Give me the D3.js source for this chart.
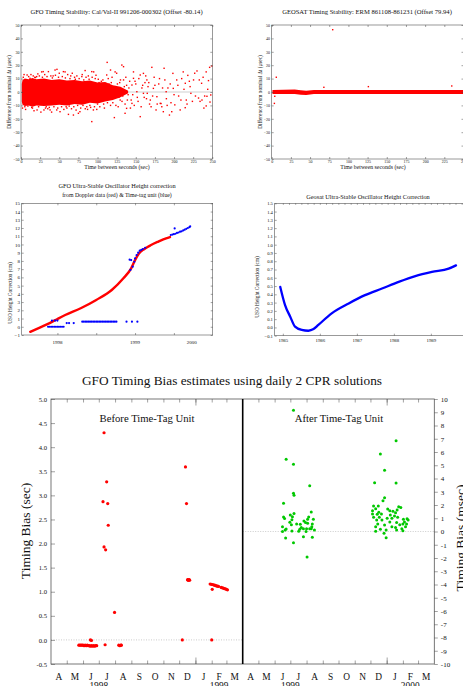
<!DOCTYPE html>
<html>
<head>
<meta charset="utf-8">
<script src="https://cdn.jsdelivr.net/npm/d3@7"></script>
<style>
body { margin: 0; background: #fff; }
svg { display: block; }
text { font-family: "Liberation Serif", "Times New Roman", serif; fill: #111; }
</style>
</head>
<body>
<svg id="chart" width="463" height="686"></svg>
<script>

////////////////////////////////////////////////////////////////////////////////
//                                                                       Data //
////////////////////////////////////////////////////////////////////////////////

// tick labels shared by both timing stability panels
var stabXTicks = [0, 25, 50, 75, 100, 125, 150, 175, 200, 225, 250];
var stabYTicks = [-50, -40, -30, -20, -10, 0, 10, 20, 30, 40, 50];

// GFO timing stability: the solid core of the cloud as an envelope (t, low, high)
var gfoCoreT  = [1, 2, 5, 10, 15, 20, 30, 40, 50, 60, 70, 80, 90, 100, 110, 120, 130, 140];
var gfoCoreLo = [-7, -9.5, -10.5, -10, -11, -10, -10.5, -10, -9.5, -10, -9, -9.5, -8, -8.5, -7, -6, -4, -1];
var gfoCoreHi = [6, 9, 10, 9.5, 10.5, 9.5, 10, 9, 9.5, 8.5, 9, 8, 8.5, 7, 7.5, 5, 4, 1];
// ... and the scattered points around it (sec, usec)
var gfoScatter = [
  [3,11],[5,-11],[8,12.7],[11.8,10.2],[15,-12],[18,11],[20.5,11.5],[21,-13.4],[24,12],[27,15],
  [29,15.2],[30,-13.4],[32,-12],[35,-12.5],[35.8,15.2],[38,-13.4],[42,12],[44.5,16.4],[46.7,-13.4],
  [47,16.9],[51,-14.7],[55.4,15.2],[57.6,15],[60,-12],[62,-16.7],[65,12],[68.5,-17.2],[70,11],
  [75,-15.9],[77,-14.7],[79.5,11.5],[83.8,16],[86,-11],[88,12],[90,-10],[92.5,15.2],[92.5,-22.1],
  [94.6,-13.4],[95,15],[97,10],[100,-9],[103,-11],
  [2,-12],[4,13],[6,-13],[9,-10.5],[10,11.5],[13,13],[14,-11.5],[16,12],[17,-14],[19,10.8],
  [22,13.5],[23,-11],[26,-15],[28,11],[31,13],[33,-11],[34,11.5],[37,-11.5],[39,12],[40,-15],
  [41,10.5],[43,-11],[45,12.5],[48,-12],[49,11],[50,14],[53,-11],[54,11.5],[56,-13],[58,10.5],
  [59,-11],[61,13],[63,-10.5],[64,10],[66,-12.5],[67,14],[69,-11],[71,9.5],[72,-13.5],[73,12],
  [74,-10],[76,10],[78,-12],[80,13],[81,-10],[82,9],[84,-12.5],[85,11],[87,-13],[89,9.5],
  [91,-11.5],[93,11],[96,-11],[98,12.5],[99,-13],[101,9.5],[102,7],[104,-7],[106,-5],[107,9],
  [109,-12],[111,2],[113,-8],[115,6],[117,-10],[119,11],[121,-2],[123,4],[127,-11],[129,7],
  [133,-3],[135,4],[137,11],[139,-6],[141,3],[143,-12],[146,-2],[149,8],[153,-7],[157,-11],
  [159,5],[161,-4],[163,12],[165,-1],[167,7],[170,-11],[175,5],[178,-9],[181,10],[185,3],
  [191,-10],[195,6],[200,-2],[205,5],[209,-6],[213,2],[217,-9],[221,4],[228,-3],[233,9],
  [239,-12],[244,2],
  [105,8],[108,-9],[110,5],[112,12.7],[112.6,22.1],[114,10],[116,-3],[117,16.4],[118,7],[120,-8],
  [122,-19.1],[123,15],[124,-10],[125,14],[126,6],[128,-4],[129.6,-6],[130,9],[131.8,20.1],[132,-7],
  [134,18.9],[134,9],[136,-15.9],[136,-9],[138,-12.2],[138,5],[140,-2],[142,8],[144,-6],[145,5.2],
  [145,-8.5],[147,10.2],[147,15],[148,-10],[150,6],[151.4,0.2],[152,-4],[154,10],[155.8,12.7],
  [155.8,-18.4],[158,3],[160,13.9],[160,-1],[162,7],[164.5,9],[164,-5],[166,4],[168,-9],[169,-6],
  [171,18.4],[172,-3],[173,2.7],[174,11],[176.5,-13.4],[177.6,-3.5],[180,6],[182,-8.5],[183,-8.6],
  [184,-11],[186,-14.7],[187,17.7],[188,9],[189.7,0.2],[190,-5],[192,3],[194,-17.2],[196,-8],
  [197,-14.7],[198.5,13.9],[199,2.7],[201,-9.6],[203.5,9],[206,-3],[208,-13.4],[210,10],[212,15],
  [214.6,-11.7],[214.7,6.5],[216,-6],[218,12.4],[220,8],[222,-1],[224,-7],[225.5,9],[227,14],
  [230,15.7],[232,-4.5],[234,-7],[236,6.5],[236.5,-6],[238,11],[240,-3],[242,15],[242,-10.4],
  [243,-3.2],[245,8.5],[246.5,18.4],[247,-7.5],[248,-2.2],[249.5,19.4]
];

// GEOSAT timing stability: narrow band around zero plus a few outliers
var geoBandT  = [1, 30, 38, 45, 55, 70, 250];
var geoBandLo = [-1.5, -1.5, -2.1, -2.3, -1.5, -1.5, -1.5];
var geoBandHi = [1.5, 1.9, 1.3, 1.0, 1.5, 1.5, 1.5];
var geoOutliers = [[3.5,-8.5],[4,-3.2],[6,11],[68,3.5],[79.5,46.5],[126,4],[234.7,4.5]];

// GFO USO height correction (decimal year, cm)
var usoTicksY = [-1,0,1,2,3,4,5,6,7,8,9,10,11,12,13,14,15];
var usoYearLabels = [["1998", 1998.0], ["1999", 1999.0], ["2000", 1999.73]];
var usoDoppler = [
  [1997.65,-0.62],[1997.78,-0.07],[1997.9,0.45],[1998.0,0.95],[1998.1,1.43],[1998.3,2.25],
  [1998.5,3.26],[1998.7,4.47],[1998.85,5.89],[1998.95,7.1],[1999.0,8.1],[1999.05,8.9],
  [1999.12,9.45],[1999.2,9.9],[1999.3,10.35],[1999.4,10.75],[1999.45,10.9]
];
var usoTimeTag = [
  [1997.88,0],[1997.90,0],[1997.92,0],[1997.94,0],[1997.96,0],[1997.98,0],[1998.00,0],[1998.02,0],
  [1998.04,0],[1998.06,0],[1998.08,0],
  [1997.93,0.75],[1997.97,0.75],[1998.00,0.75],
  [1998.12,0.45],[1998.15,0.45],[1998.21,0.45],
  [1998.32,0.62],[1998.34,0.62],[1998.36,0.62],[1998.38,0.62],[1998.40,0.62],[1998.42,0.62],
  [1998.44,0.62],[1998.46,0.62],[1998.48,0.62],[1998.50,0.62],[1998.52,0.62],[1998.54,0.62],
  [1998.56,0.62],[1998.58,0.62],[1998.60,0.62],[1998.62,0.62],[1998.64,0.62],[1998.66,0.62],
  [1998.68,0.62],[1998.70,0.62],[1998.72,0.62],[1998.74,0.62],[1998.76,0.62],
  [1998.89,0.62],[1998.96,0.62],[1999.03,0.62],
  [1998.93,8.15],[1998.95,8.1],
  [1998.94,6.9],[1998.97,7.3],[1998.99,7.9],[1999.0,8.3],[1999.02,8.7],[1999.04,9.0],
  [1999.06,9.25],[1999.08,9.35],[1999.10,9.45],[1999.13,9.6],
  [1999.46,11.15],[1999.48,11.2],[1999.50,11.25],[1999.52,11.3],[1999.54,11.4],[1999.56,11.45],
  [1999.58,11.55],[1999.60,11.6],[1999.62,11.7],[1999.64,11.8],[1999.66,11.9],[1999.68,12.0],
  [1999.70,12.1],[1999.71,12.2],[1999.51,11.95]
];

// Geosat USO height correction (decimal year, cm)
var geoUsoTicksY = [-0.1,0,0.1,0.2,0.3,0.4,0.5,0.6,0.7,0.8,0.9,1.0,1.1,1.2,1.3,1.4,1.5];
var geoUsoYears = [1985, 1986, 1987, 1988, 1989];
var geoUso = [
  [1984.93,0.49],[1985.06,0.27],[1985.2,0.13],[1985.33,0.01],[1985.51,-0.03],[1985.69,-0.04],
  [1985.83,-0.02],[1985.96,0.03],[1986.32,0.17],[1986.78,0.29],[1987.22,0.39],[1987.68,0.47],
  [1988.13,0.55],[1988.58,0.62],[1989.03,0.67],[1989.48,0.71],[1989.68,0.75]
];

// GFO timing bias, before the time-tag unit (date, sec)
var secTicks = [-0.5,0,0.5,1,1.5,2,2.5,3,3.5,4,4.5,5];
var biasBefore = [
  ["1998-05-24",-0.11],["1998-05-26",-0.11],["1998-05-28",-0.11],["1998-05-30",-0.11],
  ["1998-06-01",-0.11],["1998-06-03",-0.12],["1998-06-05",-0.11],["1998-06-07",-0.12],
  ["1998-06-09",-0.11],["1998-06-11",-0.12],["1998-06-13",-0.12],["1998-06-15",-0.13],
  ["1998-06-17",-0.12],["1998-06-19",-0.13],["1998-06-21",-0.12],["1998-06-23",-0.13],
  ["1998-06-25",-0.12],["1998-06-27",-0.12],
  ["1998-06-15",0.0],["1998-06-17",-0.01],
  ["1998-07-09",2.87],["1998-07-11",4.30],["1998-07-11",1.93],["1998-07-13",-0.10],
  ["1998-07-14",1.87],["1998-07-16",3.28],["1998-07-18",2.83],["1998-07-19",2.38],
  ["1998-07-31",0.57],["1998-08-08",-0.11],["1998-08-10",-0.12],["1998-08-12",-0.11],
  ["1998-08-13",-0.11],
  ["1998-12-07",0.0],["1998-12-13",3.59],["1998-12-15",2.83],["1998-12-17",1.25],
  ["1998-12-18",1.24],["1998-12-19",1.24],["1998-12-20",1.25],["1998-12-21",1.24],
  ["1999-01-29",1.16],["1999-01-31",1.155],["1999-02-01",0.0],["1999-02-02",1.05],
  ["1999-02-02",1.15],["1999-02-04",1.145],["1999-02-06",1.135],["1999-02-08",1.13],
  ["1999-02-10",1.12],["1999-02-12",1.115],["1999-02-14",1.11],["1999-02-19",1.09],
  ["1999-02-21",1.08],["1999-02-23",1.075],["1999-02-25",1.065],["1999-02-27",1.06],
  ["1999-03-01",1.05],["1999-03-03",1.04]
];

// GFO timing bias, after the time-tag unit (date, msec)
var msecTicks = [-10,-9,-8,-7,-6,-5,-4,-3,-2,-1,0,1,2,3,4,5,6,7,8,9,10];
var biasAfter = [
  ["1999-07-07",9.15],["1999-06-23",5.45],["1999-07-07",5.07],["1999-08-07",3.46],
  ["1999-07-07",2.88],["1999-07-08",2.73],["1999-06-18",2.13],["1999-08-10",1.47],
  ["1999-07-01",1.25],["1999-07-08",1.35],["1999-07-05",1.12],["1999-06-18",1.09],
  ["1999-06-20",0.99],["1999-08-05",1.09],["1999-08-03",0.92],["1999-08-14",0.92],
  ["1999-07-04",0.89],["1999-06-30",0.69],["1999-07-27",0.79],["1999-07-30",0.67],
  ["1999-07-13",0.57],["1999-07-20",0.54],["1999-08-03",0.62],["1999-08-12",0.57],
  ["1999-06-16",0.36],["1999-07-03",0.51],["1999-06-23",0.19],["1999-06-21",0.11],
  ["1999-06-16",0.0],["1999-07-04",0.04],["1999-07-19",0.17],["1999-07-26",0.21],
  ["1999-08-01",0.21],["1999-08-07",0.21],["1999-08-10",0.21],["1999-07-22",0.31],
  ["1999-07-31",0.0],["1999-08-11",0.36],["1999-08-16",0.11],["1999-07-17",0.01],
  ["1999-06-22",-0.49],["1999-07-26",-0.39],["1999-08-12",-0.44],["1999-07-07",-0.84],
  ["1999-08-02",-1.92],
  ["2000-01-19",6.85],["1999-12-20",5.85],["1999-12-28",4.62],["1999-12-09",3.68],
  ["2000-01-19",3.66],["1999-12-28",2.55],["1999-12-25",2.32],["1999-12-07",1.92],
  ["1999-12-16",1.92],["1999-12-11",1.72],["1999-12-05",1.57],["2000-01-03",1.70],
  ["2000-01-07",1.57],["2000-01-24",1.87],["2000-01-28",1.82],["2000-01-13",1.52],
  ["2000-01-18",1.42],["2000-01-21",1.62],["1999-12-17",1.45],["1999-12-05",1.32],
  ["1999-12-14",1.30],["1999-12-22",1.32],["2000-01-08",1.25],["2000-01-16",1.17],
  ["1999-12-07",1.07],["1999-12-18",1.07],["2000-01-02",1.0],["2000-01-11",1.0],
  ["2000-01-22",1.07],["2000-02-09",0.97],["2000-02-11",0.87],["2000-02-02",0.92],
  ["2000-02-04",0.72],["2000-02-08",0.57],["2000-02-01",0.57],["2000-02-06",0.36],
  ["1999-12-13",0.87],["1999-12-23",0.87],["2000-01-07",0.72],["2000-01-20",0.67],
  ["2000-01-26",0.51],["1999-12-15",0.57],["1999-12-28",0.49],["1999-12-11",0.36],
  ["2000-01-11",0.36],["2000-01-18",0.31],["1999-12-20",0.17],["1999-12-11",0.01],
  ["1999-12-31",0.11],["2000-01-20",0.11],["2000-02-01",0.06],["2000-01-30",0.21],
  ["1999-12-31",-0.47],["1999-12-27",-0.14]
];

var monthLetters = ["J","F","M","A","M","J","J","A","S","O","N","D"];
var biasYearLabels = [["1998","1998-07-01"],["1999","1999-02-15"],["1999","1999-07-01"],["2000","2000-02-15"]];

////////////////////////////////////////////////////////////////////////////////
//                                                                      Setup //
////////////////////////////////////////////////////////////////////////////////

var RED = "#ff0000", BLUE = "#0000ff", GREEN = "#00c800", FRAME = "#555";
var SANS = "'Liberation Sans', Arial, sans-serif";
var SERIF = "'Liberation Serif', 'Times New Roman', serif";
var svg = d3.select("#chart");
var parse = d3.utcParse("%Y-%m-%d");

function frame(g, x0, y0, x1, y1, w) {
  g.append("rect").attr("x", x0).attr("y", y0)
    .attr("width", x1 - x0).attr("height", y1 - y0)
    .attr("fill", "none").attr("stroke", FRAME).attr("stroke-width", w || 0.6);
}

// put an axis in place, drop its domain line and restyle it
function axis(g, ax, tx, ty, size, family) {
  var a = g.append("g").attr("transform", "translate(" + tx + "," + ty + ")").call(ax);
  a.attr("font-size", size).attr("font-family", family || SERIF);
  a.select(".domain").remove();
  a.selectAll("line").attr("stroke", "#444").attr("stroke-width", 0.5);
  a.selectAll("text").attr("fill", "#222");
  return a;
}

function label(g, txt, x, y, size, rot, anchor) {
  var t = g.append("text").attr("font-size", size).attr("text-anchor", anchor || "middle").text(txt);
  if (rot) t.attr("transform", "translate(" + x + "," + y + ") rotate(" + rot + ")");
  else t.attr("x", x).attr("y", y);
  return t;
}

////////////////////////////////////////////////////////////////////////////////
//                                            Timing stability (top two plots) //
////////////////////////////////////////////////////////////////////////////////

function stability(o) {
  var g = svg.append("g");
  var x = d3.scaleLinear().domain([0, 250]).range([o.x0, o.x1]);
  var y = d3.scaleLinear().domain([-50, 50]).range([159, 25]);

  g.append("line").attr("x1", o.x0).attr("x2", o.x1).attr("y1", y(0)).attr("y2", y(0))
    .attr("stroke", "#cfcfcf").attr("stroke-width", 1.2);

  var band = o.bandT.map(function(t, i) { return [t, o.bandLo[i], o.bandHi[i]]; });
  g.append("path").datum(band)
    .attr("d", d3.area().x(function(d) { return x(d[0]); })
      .y0(function(d) { return y(d[1]); }).y1(function(d) { return y(d[2]); }))
    .attr("fill", RED);

  g.selectAll(null).data(o.points).join("rect")
    .attr("x", function(d) { return x(d[0]) - 0.7; })
    .attr("y", function(d) { return y(d[1]) - 0.7; })
    .attr("width", 1.4).attr("height", 1.4).attr("fill", RED);

  frame(g, o.x0, 25, o.x1, 159);
  axis(g, d3.axisBottom(x).tickValues(stabXTicks).tickSize(-2).tickPadding(1.6), 0, 159, 4);
  axis(g, d3.axisTop(x).tickValues(stabXTicks).tickSize(-2).tickFormat(""), 0, 25, 4);
  axis(g, d3.axisLeft(y).tickValues(stabYTicks).tickSize(-2).tickPadding(1.6), o.x0, 0, 4);
  axis(g, d3.axisRight(y).tickValues(stabYTicks).tickSize(-2).tickFormat(""), o.x1, 0, 4);

  label(g, o.title, o.titleX, 14, 6.6);
  label(g, "Time between seconds (sec)", o.xLabelX, 168.5, 5.8);
  label(g, "Difference from nominal \u0394t (\u03bcsec)", o.yLabelX, 92, 5.3, -90);
}

stability({
  x0: 21, x1: 212.3, titleX: 116.5, xLabelX: 117, yLabelX: 10.5,
  title: "GFO Timing Stability: Cal/Val-II 991206-000302 (Offset -80.14)",
  bandT: gfoCoreT, bandLo: gfoCoreLo, bandHi: gfoCoreHi, points: gfoScatter
});

stability({
  x0: 271.7, x1: 463.5, titleX: 367, xLabelX: 373, yLabelX: 261.5,
  title: "GEOSAT Timing Stability: ERM 861108-861231 (Offset 79.94)",
  bandT: geoBandT, bandLo: geoBandLo, bandHi: geoBandHi, points: geoOutliers
});

////////////////////////////////////////////////////////////////////////////////
//                                              GFO USO height correction     //
////////////////////////////////////////////////////////////////////////////////

(function() {
  var g = svg.append("g");
  var x = d3.scaleLinear().domain([1997.54, 2000]).range([21.7, 212.7]);
  var y = d3.scaleLinear().domain([-1, 15]).range([335, 203.3]);

  g.append("path").datum(usoDoppler)
    .attr("d", d3.line().x(function(d) { return x(d[0]); }).y(function(d) { return y(d[1]); })
      .curve(d3.curveMonotoneX))
    .attr("fill", "none").attr("stroke", RED).attr("stroke-width", 2.4).attr("stroke-linecap", "round");

  g.selectAll(null).data(usoTimeTag).join("circle")
    .attr("cx", function(d) { return x(d[0]); }).attr("cy", function(d) { return y(d[1]); })
    .attr("r", 1.1).attr("fill", BLUE);

  frame(g, 21.7, 203.3, 212.7, 335);
  var halfYears = [1998, 1998.5, 1999, 1999.5];
  axis(g, d3.axisLeft(y).tickValues(usoTicksY).tickSize(-2).tickPadding(1.8), 21.7, 0, 5);
  axis(g, d3.axisRight(y).tickValues(usoTicksY).tickSize(-2).tickFormat(""), 212.7, 0, 5);
  axis(g, d3.axisBottom(x).tickValues(halfYears).tickSize(-2).tickFormat(""), 0, 335, 5);
  axis(g, d3.axisTop(x).tickValues(halfYears).tickSize(-2).tickFormat(""), 0, 203.3, 5);

  usoYearLabels.forEach(function(d) { label(g, d[0], x(d[1]), 343.5, 5); });

  label(g, "GFO Ultra-Stable Oscillator Height correction", 117, 187.5, 6.3);
  label(g, "from Doppler data (red) & Time-tag unit (blue)", 117, 196.5, 5.8);
  label(g, "USO Height Correction (cm)", 11.5, 293, 5.3, -90);
})();

////////////////////////////////////////////////////////////////////////////////
//                                            Geosat USO height correction    //
////////////////////////////////////////////////////////////////////////////////

(function() {
  var g = svg.append("g");
  var x = d3.scaleLinear().domain([1984.78, 1989.95]).range([274.7, 466]);
  var y = d3.scaleLinear().domain([-0.1, 1.5]).range([335.7, 203.3]);

  g.append("path").datum(geoUso)
    .attr("d", d3.line().x(function(d) { return x(d[0]); }).y(function(d) { return y(d[1]); })
      .curve(d3.curveMonotoneX))
    .attr("fill", "none").attr("stroke", BLUE).attr("stroke-width", 2.3).attr("stroke-linecap", "round");

  frame(g, 274.7, 203.3, 466, 335.7);
  var minor = d3.range(1985, 1990, 1 / 6);
  axis(g, d3.axisLeft(y).tickValues(geoUsoTicksY).tickSize(-2).tickPadding(1.8)
    .tickFormat(d3.format(".1f")), 274.7, 0, 4.6);
  axis(g, d3.axisTop(x).tickValues(minor).tickSize(-1.5).tickFormat(""), 0, 203.3, 4);
  axis(g, d3.axisBottom(x).tickValues(geoUsoYears).tickSize(-2).tickPadding(2.5)
    .tickFormat(d3.format("d")), 0, 335.7, 4.8);

  label(g, "Geosat Ultra-Stable Oscillator Height Correction", 368, 198.5, 6.3);
  label(g, "USO Height Correction (cm)", 258.5, 287, 5.3, -90);
})();

////////////////////////////////////////////////////////////////////////////////
//                                                         GFO timing bias    //
////////////////////////////////////////////////////////////////////////////////

(function() {
  var g = svg.append("g");
  var top = 399, bot = 664, left = 51, mid = 242.7, right = 434.3;
  var xBefore = d3.scaleUtc().domain([parse("1998-04-01"), parse("1999-04-01")]).range([left, mid]);
  var xAfter = d3.scaleUtc().domain([parse("1999-04-01"), parse("2000-04-01")]).range([mid, right]);
  var ySec = d3.scaleLinear().domain([-0.5, 5]).range([bot, top]);
  var yMsec = d3.scaleLinear().domain([-10, 10]).range([bot, top]);

  // dotted zero lines
  g.append("line").attr("x1", left).attr("x2", mid).attr("y1", ySec(0)).attr("y2", ySec(0))
    .attr("stroke", "#aaa").attr("stroke-width", 0.6).attr("stroke-dasharray", "1,1.5");
  g.append("line").attr("x1", mid).attr("x2", right).attr("y1", yMsec(0)).attr("y2", yMsec(0))
    .attr("stroke", "#aaa").attr("stroke-width", 0.6).attr("stroke-dasharray", "1,1.5");

  g.selectAll(null).data(biasBefore).join("circle")
    .attr("cx", function(d) { return xBefore(parse(d[0])); })
    .attr("cy", function(d) { return ySec(d[1]); })
    .attr("r", 1.6).attr("fill", RED);

  g.selectAll(null).data(biasAfter).join("circle")
    .attr("cx", function(d) { return xAfter(parse(d[0])); })
    .attr("cy", function(d) { return yMsec(d[1]); })
    .attr("r", 1.5).attr("fill", GREEN);

  frame(g, left, top, right, bot, 0.8);

  [xBefore, xAfter].forEach(function(x) {
    var d = x.domain();
    var months = d3.utcMonth.range(d[0], d3.utcMonth.offset(d[1], 1));
    var inner = months.slice(1, -1);
    var jan = inner.filter(function(m) { return m.getUTCMonth() === 0; });
    axis(g, d3.axisTop(x).tickValues(inner).tickSize(-3.5).tickFormat(""), 0, top, 8);
    axis(g, d3.axisBottom(x).tickValues(inner).tickSize(-3.5).tickFormat(""), 0, bot, 8);
    axis(g, d3.axisTop(x).tickValues(jan).tickSize(-6.5).tickFormat(""), 0, top, 8);
    axis(g, d3.axisBottom(x).tickValues(jan).tickSize(-6.5).tickFormat(""), 0, bot, 8);
    months.slice(0, -1).forEach(function(m, i) {
      var cx = (x(m) + x(months[i + 1])) / 2;
      label(g, monthLetters[m.getUTCMonth()], cx, 679.5, 9.4);
    });
  });

  biasYearLabels.forEach(function(d) {
    var dt = parse(d[1]);
    var x = dt < parse("1999-04-01") ? xBefore : xAfter;
    label(g, d[0], x(dt), 688.5, 9.4);
  });

  // divider between before / after
  g.append("line").attr("x1", mid).attr("x2", mid).attr("y1", top).attr("y2", bot)
    .attr("stroke", "#000").attr("stroke-width", 1.6);

  axis(g, d3.axisLeft(ySec).tickValues(secTicks).tickSize(-4).tickPadding(4)
    .tickFormat(function(d) { return d.toFixed(1); }), left, 0, 6.6, SANS);
  axis(g, d3.axisRight(yMsec).tickValues(msecTicks).tickSize(3.5).tickPadding(3)
    .tickFormat(function(d) { return String(d); }), right, 0, 7, SERIF);

  label(g, "GFO Timing Bias estimates using daily 2 CPR solutions", 232, 384.5, 13.3);
  label(g, "Before Time-Tag Unit", 147, 421.5, 10.7);
  label(g, "After Time-Tag Unit", 339, 421.5, 10.7);
  label(g, "Timing Bias (sec)", 29.5, 531, 13.5, -90);
  label(g, "Timing Bias (msec)", 464.5, 538, 13.5, -90);
})();

</script>
</body>
</html>
